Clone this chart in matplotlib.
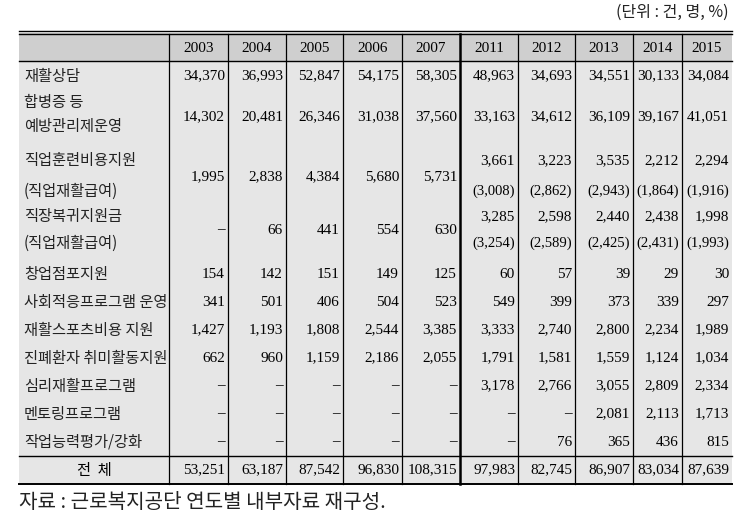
import matplotlib
matplotlib.use('Agg')
import matplotlib.pyplot as plt

plt.rcParams['font.family'] = ['Liberation Serif', 'Noto Sans CJK KR', 'DejaVu Sans']

# table data
years = ['2003', '2004', '2005', '2006', '2007', '2011', '2012', '2013', '2014', '2015']
labels = [
    ['재활상담'],
    ['합병증 등', '예방관리제운영'],
    ['직업훈련비용지원', '(직업재활급여)'],
    ['직장복귀지원금', '(직업재활급여)'],
    ['창업점포지원'],
    ['사회적응프로그램 운영'],
    ['재활스포츠비용 지원'],
    ['진폐환자 취미활동지원'],
    ['심리재활프로그램'],
    ['멘토링프로그램'],
    ['작업능력평가/강화'],
]
values = [
    [34370, 36993, 52847, 54175, 58305, 48963, 34693, 34551, 30133, 34084],
    [14302, 20481, 26346, 31038, 37560, 33163, 34612, 36109, 39167, 41051],
    [1995, 2838, 4384, 5680, 5731, 3661, 3223, 3535, 2212, 2294],
    [None, 66, 441, 554, 630, 3285, 2598, 2440, 2438, 1998],
    [154, 142, 151, 149, 125, 60, 57, 39, 29, 30],
    [341, 501, 406, 504, 523, 549, 399, 373, 339, 297],
    [1427, 1193, 1808, 2544, 3385, 3333, 2740, 2800, 2234, 1989],
    [662, 960, 1159, 2186, 2055, 1791, 1581, 1559, 1124, 1034],
    [None, None, None, None, None, 3178, 2766, 3055, 2809, 2334],
    [None, None, None, None, None, None, None, 2081, 2113, 1713],
    [None, None, None, None, None, None, 76, 365, 436, 815],
]
# (직업재활급여) sub-values for 2011-2015
sub_training = [3008, 2862, 2943, 1864, 1916]
sub_return = [3254, 2589, 2425, 2431, 1993]
totals = [53251, 63187, 87542, 96830, 108315, 97983, 82745, 86907, 83034, 87639]

unit_text = '(단위 : 건, 명, %)'
source_text = '자료 : 근로복지공단 연도별 내부자료 재구성.'

# layout in pixel coordinates
W, H = 739, 525
col_edges = [19, 169, 228, 286, 343, 402, 460, 518, 575, 633, 682, 732]
top, head_bot, total_top, bottom = 33, 61, 456, 484
row_y = [76, 117, 177, 230, 274, 302, 330, 358, 386, 414, 442]
label_y = [[76], [102, 127], [161, 191], [217, 243], [274], [302], [330], [358], [386], [414], [442]]
total_y = 470

fig = plt.figure(figsize=(W / 100, H / 100), dpi=100)
ax = fig.add_axes([0, 0, 1, 1])
ax.set_xlim(0, W)
ax.set_ylim(H, 0)
ax.axis('off')

x0, x1 = col_edges[0], col_edges[-1]
ax.fill_between([x0, x1], top, head_bot, color='#cfcfcf', lw=0)
ax.fill_between([x0, x1], head_bot, bottom, color='#e6e6e6', lw=0)

# borders
ax.plot([x0, x1], [31, 31], color='black', lw=1.0)
ax.plot([x0, x1], [34, 34], color='black', lw=1.0)
ax.plot([x0, x1], [head_bot, head_bot], color='black', lw=1.0)
ax.plot([x0, x1], [total_top, total_top], color='black', lw=1.0)
ax.plot([x0, x1], [bottom, bottom], color='black', lw=1.4)
for xe in col_edges[1:-1]:
    ax.plot([xe, xe], [34, bottom], color='black', lw=1.8 if xe == 460 else 0.9)

num_fs = 11
sub_fs = 10.5
lab_fs = 11
kr = ['Noto Sans CJK KR', 'DejaVu Sans']


def fmt(v):
    return '–' if v is None else f'{v:,}'


# header
for j, y in enumerate(years):
    cx = (col_edges[j + 1] + col_edges[j + 2]) / 2
    ax.text(cx, 48, y, ha='center', va='center', fontsize=num_fs)

# body
for i, (lab, vals) in enumerate(zip(labels, values)):
    for txt, ly in zip(lab, label_y[i]):
        ax.text(24, ly, txt, ha='left', va='center', fontsize=lab_fs,
                family=kr, color='#222222')
    for j, v in enumerate(vals):
        rx = col_edges[j + 2] - 3
        if i in (2, 3) and j >= 5:
            sub = sub_training if i == 2 else sub_return
            ax.text(rx, label_y[i][0], fmt(v), ha='right', va='center', fontsize=num_fs)
            ax.text(rx, label_y[i][1], f'({sub[j - 5]:,})', ha='right', va='center', fontsize=sub_fs)
        else:
            ax.text(rx, row_y[i], fmt(v), ha='right', va='center', fontsize=num_fs)

# total row
ax.text((col_edges[0] + col_edges[1]) / 2, total_y, '전  체', ha='center', va='center',
        fontsize=lab_fs, family=kr)
for j, v in enumerate(totals):
    ax.text(col_edges[j + 2] - 3, total_y, fmt(v), ha='right', va='center', fontsize=num_fs)

ax.text(729, 12, unit_text, ha='right', va='center', fontsize=11.5,
        family=kr, color='#222222')
ax.text(19, 502, source_text, ha='left', va='center', fontsize=14.5,
        family=kr, color='#222222')

fig.savefig('out.png', dpi=100)
